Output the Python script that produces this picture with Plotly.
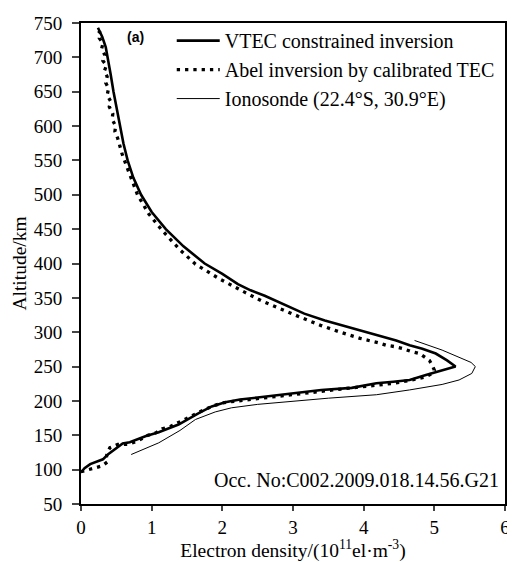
import plotly.graph_objects as go

# VTEC constrained inversion (electron density 1e11 el/m^3, altitude km)
vtec_ne = [0.00, 0.05, 0.13, 0.31, 0.38, 0.48, 0.59, 0.69, 0.92, 1.10, 1.38, 1.66, 1.85, 2.04, 2.25, 2.50,
           2.80, 3.10, 3.40, 3.83, 4.18, 4.42, 4.65, 4.88, 5.11, 5.30,
           5.18, 5.02, 4.83, 4.65, 4.46, 4.10, 3.76, 3.45, 3.16, 2.88, 2.60, 2.40, 2.22, 2.00, 1.75,
           1.45, 1.20, 1.00, 0.85, 0.74, 0.66, 0.60, 0.55, 0.50, 0.46, 0.42, 0.38, 0.35, 0.30, 0.24]
vtec_alt = [96, 102, 108, 115, 122, 129.5, 138, 140, 149, 154.5, 165.6, 182, 192, 198, 202, 205,
            209, 213, 216, 219, 225.7, 228, 230.5, 237.7, 245, 250,
            259, 269, 276, 281, 288, 298, 307.5, 317, 327, 340, 353, 361, 370, 385, 400,
            425, 450, 475, 500, 525, 550, 575, 600, 625, 650, 675, 700, 715, 730, 743]

# Abel inversion by calibrated TEC
abel_ne = [0.00, 0.17, 0.30, 0.37, 0.36, 0.37, 0.41, 0.52, 0.66, 0.80, 0.94, 1.06, 1.15, 1.27, 1.40, 1.55,
           1.70, 1.85, 2.00, 2.13, 2.50, 2.90, 3.37, 3.83, 4.23, 4.42, 4.65, 4.88, 4.97, 5.00,
           4.97, 4.93, 4.86, 4.79, 4.67, 4.56, 4.44, 4.32, 4.21, 3.95, 3.67, 3.39, 3.10, 2.83, 2.55,
           2.32, 1.97, 1.62, 1.40, 1.15, 0.96, 0.80, 0.70, 0.64, 0.58, 0.55,
           0.52, 0.48, 0.49, 0.44, 0.45, 0.40, 0.42, 0.37, 0.39, 0.35, 0.37, 0.33, 0.36, 0.31, 0.34,
           0.29, 0.31, 0.26, 0.28, 0.22]
abel_alt = [97, 102, 105.5, 111, 118, 125, 132, 136.7, 136.7, 141.6, 149.7, 153.6, 159.4, 163, 170, 177,
            185, 192, 197, 199, 203, 208, 213.6, 219, 223, 225.6, 229.7, 235, 240, 245,
            252, 259, 264, 269, 272, 276, 279, 281, 284.5, 291, 300, 310, 322, 334, 346,
            358, 377, 399, 420, 448, 472, 500, 525, 543, 560, 572,
            582, 592, 600, 610, 618, 628, 636, 645, 655, 663, 672, 680, 688, 695, 703,
            712, 720, 728, 735, 741]

# Ionosonde (22.4S, 30.9E)
iono_ne = [0.71, 1.10, 1.40, 1.62, 1.90, 2.13, 2.50, 3.00, 3.50, 4.18, 4.65, 5.11, 5.35, 5.53, 5.58,
           5.52, 5.39, 5.11, 4.72]
iono_alt = [122, 139, 157, 173, 184, 190, 195, 200, 204, 209, 216, 224, 230.5, 240, 250,
            256, 262, 274, 288]

x_ticks = [0, 1, 2, 3, 4, 5, 6]
y_ticks = list(range(50, 751, 50))

SERIF = "Liberation Serif, Times New Roman, serif"

fig = go.Figure()
fig.add_trace(go.Scatter(x=vtec_ne, y=vtec_alt, mode="lines", name="VTEC constrained inversion",
                         line=dict(color="black", width=2.6)))
fig.add_trace(go.Scatter(x=abel_ne, y=abel_alt, mode="lines", name="Abel inversion by calibrated TEC",
                         line=dict(color="black", width=3.3, dash="3.3px,5px")))
fig.add_trace(go.Scatter(x=iono_ne, y=iono_alt, mode="lines", name="Ionosonde (22.4°S, 30.9°E)",
                         line=dict(color="black", width=1)))

# page body has an 8px margin: figure is drawn from (8, 8)
fig.update_layout(
    width=507, height=554,
    margin=dict(l=73, r=5, t=12, b=57),
    paper_bgcolor="white", plot_bgcolor="white",
    font=dict(family=SERIF, color="black", size=19),
    showlegend=True,
    legend=dict(x=0.214, y=1.004, xanchor="left", yanchor="top", bgcolor="rgba(0,0,0,0)",
                font=dict(family=SERIF, size=20, color="black"), itemwidth=43),
    xaxis=dict(range=[0, 6], tickvals=x_ticks, ticks="outside", ticklen=5, tickwidth=1.5,
               showline=True, linewidth=2, linecolor="black", mirror=True, showgrid=False,
               zeroline=False, tickfont=dict(size=19),
               title=dict(text="Electron density/(10<sup>11</sup>el·m<sup>-3</sup>)",
                          font=dict(size=19.5), standoff=6)),
    yaxis=dict(range=[50, 750], tickvals=y_ticks, ticks="outside", ticklen=7, tickwidth=1.5,
               showline=True, linewidth=2, linecolor="black", mirror=True, showgrid=False,
               zeroline=False, tickfont=dict(size=19), ticklabelstandoff=6,
               title=dict(text="Altitude/km", font=dict(size=19.5), standoff=2)),
    annotations=[
        dict(text="<b>(a)</b>", xref="paper", yref="paper", x=0.128, y=0.970,
             xanchor="center", yanchor="middle", showarrow=False,
             font=dict(family="Liberation Sans, Arial, sans-serif", size=14)),
        dict(text="Occ. No:C002.2009.018.14.56.G21", xref="paper", yref="paper", x=0.99, y=0.05,
             xanchor="right", yanchor="middle", showarrow=False, font=dict(size=20)),
    ],
)

fig.write_html("out.html")
